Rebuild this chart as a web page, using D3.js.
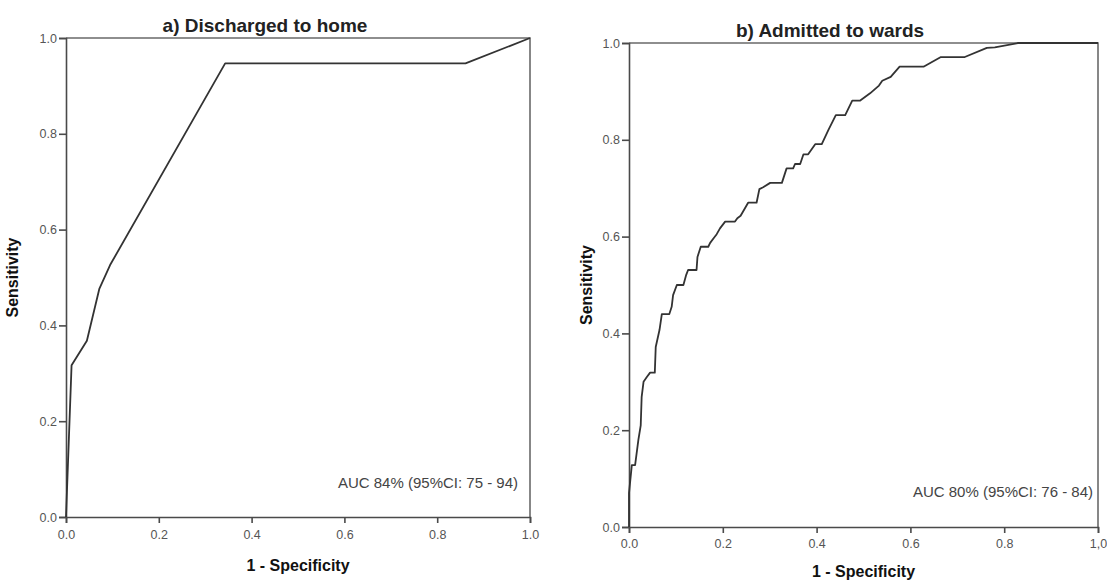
<!DOCTYPE html>
<html>
<head>
<meta charset="utf-8">
<script src="https://cdn.jsdelivr.net/npm/d3@7"></script>
<style>
  body { margin: 0; background: #fff; }
  svg { display: block; font-family: "Liberation Sans", Arial, sans-serif; }
  .axis path, .axis line { stroke: #4a4a4a; stroke-width: 1.6px; }
  .axis text { fill: #555; font-size: 12.5px; }
  .frame { fill: none; stroke: #6a6a6a; stroke-width: 1.6px; }
  .roc { fill: none; stroke: #333; stroke-width: 1.8px; stroke-linejoin: round; }
  .title { font-weight: bold; font-size: 19px; fill: #222; }
  .axtitle { font-weight: bold; font-size: 16px; fill: #111; }
  .auc { font-size: 15px; fill: #444; }
</style>
</head>
<body>
<script>
// Panel a: discharged to home (1 - specificity, sensitivity)
var homeFpr = [0, 0.012, 0.045, 0.072, 0.095, 0.343, 0.861, 1];
var homeTpr = [0, 0.317, 0.368, 0.477, 0.526, 0.947, 0.947, 1];

// Panel b: admitted to wards
var wardFpr = [0, 0, 0.006, 0.013, 0.02, 0.025, 0.027, 0.031, 0.038, 0.045, 0.055, 0.057,
  0.065, 0.07, 0.086, 0.091, 0.094, 0.102, 0.116, 0.122, 0.126, 0.144, 0.146, 0.153,
  0.169, 0.173, 0.18, 0.187, 0.194, 0.205, 0.226, 0.231, 0.238, 0.254, 0.272, 0.278,
  0.286, 0.301, 0.326, 0.336, 0.35, 0.354, 0.365, 0.372, 0.382, 0.397, 0.411, 0.425,
  0.441, 0.461, 0.476, 0.493, 0.514, 0.533, 0.54, 0.558, 0.577, 0.628, 0.665, 0.716,
  0.763, 0.78, 0.83, 1];
var wardTpr = [0, 0.07, 0.128, 0.128, 0.18, 0.21, 0.269, 0.3, 0.31, 0.319, 0.319, 0.372,
  0.407, 0.44, 0.44, 0.455, 0.479, 0.5, 0.5, 0.521, 0.531, 0.531, 0.558, 0.579,
  0.579, 0.587, 0.596, 0.605, 0.617, 0.631, 0.631, 0.638, 0.643, 0.67, 0.67, 0.698,
  0.702, 0.711, 0.711, 0.741, 0.741, 0.75, 0.75, 0.77, 0.77, 0.791, 0.791, 0.82,
  0.851, 0.851, 0.881, 0.881, 0.896, 0.912, 0.922, 0.93, 0.951, 0.951, 0.971, 0.971,
  0.99, 0.991, 1, 1];

var tickValues = [0, 0.2, 0.4, 0.6, 0.8, 1];
var yTickLabels = ["0.0", "0.2", "0.4", "0.6", "0.8", "1.0"];
var xTickLabelsA = ["0.0", "0.2", "0.4", "0.6", "0.8", "1.0"];
var xTickLabelsB = ["0.0", "0.2", "0.4", "0.6", "0.8", "1,0"];

var titles = ["a) Discharged to home", "b) Admitted to wards"];
var aucLabels = ["AUC 84% (95%CI: 75 - 94)", "AUC 80% (95%CI: 76 - 84)"];

var svg = d3.select("body").append("svg")
  .attr("width", 1107)
  .attr("height", 582);

var panels = [
  { fpr: homeFpr, tpr: homeTpr, xLabels: xTickLabelsA, title: titles[0], auc: aucLabels[0],
    left: 66, top: 38, width: 464, height: 479, pad: 7,
    titleX: 199, titleY: -6, yTitleX: -48, xTitleY: 54, aucX: -12, aucY: -29 },
  { fpr: wardFpr, tpr: wardTpr, xLabels: xTickLabelsB, title: titles[1], auc: aucLabels[1],
    left: 629, top: 43, width: 469, height: 484, pad: 6,
    titleX: 201, titleY: -6, yTitleX: -37, xTitleY: 50, aucX: -5, aucY: -30 }
];

panels.forEach(function (p) {
  var g = svg.append("g")
    .attr("transform", "translate(" + p.left + "," + p.top + ")");

  var x = d3.scaleLinear().domain([0, 1]).range([0, p.width]);
  var y = d3.scaleLinear().domain([0, 1]).range([p.height, 0]);

  // top and right edges of the box
  g.append("path")
    .attr("class", "frame")
    .attr("d", "M" + x(0) + "," + y(1) + "H" + x(1) + "V" + y(0));

  // Add the X Axis
  g.append("g")
    .attr("class", "axis")
    .attr("transform", "translate(0," + p.height + ")")
    .call(d3.axisBottom(x).tickValues(tickValues).tickSizeOuter(0).tickSize(6).tickPadding(p.pad)
      .tickFormat(function (d, i) { return p.xLabels[i]; }));

  // Add the Y Axis
  g.append("g")
    .attr("class", "axis")
    .call(d3.axisLeft(y).tickValues(tickValues).tickSizeOuter(0).tickSize(7).tickPadding(2)
      .tickFormat(function (d, i) { return yTickLabels[i]; }));

  var pts = p.fpr.map(function (d, i) { return [d, p.tpr[i]]; });
  var line = d3.line()
    .x(function (d) { return x(d[0]); })
    .y(function (d) { return y(d[1]); });

  g.append("path")
    .attr("class", "roc")
    .attr("d", line(pts));

  g.append("text")
    .attr("class", "title")
    .attr("x", p.titleX)
    .attr("y", p.titleY)
    .attr("text-anchor", "middle")
    .text(p.title);

  g.append("text")
    .attr("class", "axtitle")
    .attr("transform", "translate(" + p.yTitleX + "," + (p.height / 2) + ") rotate(-90)")
    .attr("text-anchor", "middle")
    .text("Sensitivity");

  g.append("text")
    .attr("class", "axtitle")
    .attr("x", p.width / 2)
    .attr("y", p.height + p.xTitleY)
    .attr("text-anchor", "middle")
    .text("1 - Specificity");

  g.append("text")
    .attr("class", "auc")
    .attr("x", p.width + p.aucX)
    .attr("y", p.height + p.aucY)
    .attr("text-anchor", "end")
    .text(p.auc);
});
</script>
</body>
</html>
